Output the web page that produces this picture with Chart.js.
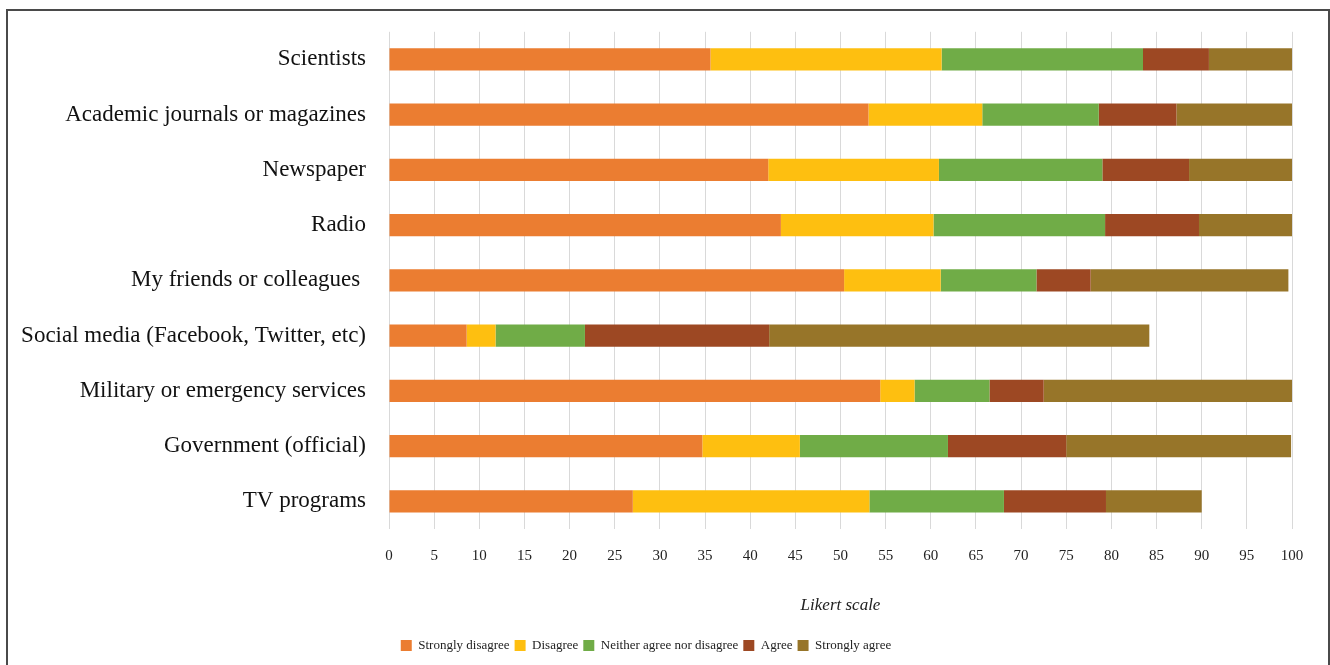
<!DOCTYPE html>
<html>
<head>
<meta charset="utf-8">
<script src="https://cdn.jsdelivr.net/npm/chart.js@4"></script>
<style>
    body { margin: 0; background: #fff; overflow: hidden; }
    #frame {
        position: absolute; left: 6px; top: 9px; width: 1320px; height: 700px;
        border: 2px solid #4a4a4a;
    }
    #wrap { position: absolute; left: 0; top: -5px; width: 1330px; height: 670px; }
</style>
</head>
<body>
<div id="frame"></div>
<div id="wrap"><canvas id="likertChart"></canvas></div>
<script>
// Sources (top to bottom)
const categories = [
    'Scientists',
    'Academic journals or magazines',
    'Newspaper',
    'Radio',
    'My friends or colleagues ',
    'Social media (Facebook, Twitter, etc)',
    'Military or emergency services',
    'Government (official)',
    'TV programs'
];

// Percent of responses per level
const stronglyDisagree = [35.6, 53.1, 42.0, 43.4, 50.4, 8.6, 54.4, 34.7, 27.0];
const disagree         = [25.6, 12.6, 18.9, 16.9, 10.7, 3.2, 3.8, 10.8, 26.2];
const neither          = [22.3, 12.9, 18.1, 19.0, 10.6, 9.9, 8.3, 16.4, 14.9];
const agree            = [7.3, 8.6, 9.6, 10.4, 6.0, 20.4, 6.0, 13.1, 11.3];
const stronglyAgree    = [9.2, 12.8, 11.4, 10.3, 21.9, 42.1, 27.6, 24.9, 10.6];

const seriesNames = ['Strongly disagree', 'Disagree', 'Neither agree nor disagree', 'Agree', 'Strongly agree'];
const xTicks = { min: 0, max: 100, step: 5 };

const colors = ['#EB7D31', '#FEBF10', '#70AC47', '#9D4823', '#977529'];

const serif = "'Liberation Serif', 'DejaVu Serif', serif";
const values = [stronglyDisagree, disagree, neither, agree, stronglyAgree];

new Chart(document.getElementById('likertChart'), {
    type: 'bar',
    data: {
        labels: categories,
        datasets: seriesNames.map((name, i) => ({
            label: name,
            data: values[i],
            backgroundColor: colors[i],
            borderWidth: 0,
            barPercentage: 0.4,
            categoryPercentage: 1
        }))
    },
    options: {
        indexAxis: 'y',
        responsive: true,
        maintainAspectRatio: false,
        animation: false,
        layout: { padding: { left: 0, right: 38, top: 27, bottom: 3 } },
        plugins: {
            tooltip: { enabled: false },
            legend: {
                position: 'bottom',
                labels: {
                    color: '#222',
                    boxWidth: 11,
                    boxHeight: 11,
                    padding: 5,
                    font: { family: serif, size: 13 }
                }
            }
        },
        scales: {
            x: {
                stacked: true,
                min: xTicks.min,
                max: xTicks.max,
                border: { display: false },
                grid: { color: '#d9d9d9', lineWidth: 1, drawTicks: false },
                ticks: {
                    stepSize: xTicks.step,
                    padding: 18,
                    color: '#222',
                    font: { family: serif, size: 15 }
                },
                title: {
                    display: true,
                    text: 'Likert scale',
                    color: '#222',
                    padding: { top: 0, bottom: 18 },
                    font: { family: serif, size: 17, style: 'italic' }
                },
                afterFit: (scale) => { scale.height = 105; }
            },
            y: {
                stacked: true,
                border: { display: false },
                grid: { display: false, drawTicks: false },
                ticks: {
                    padding: 23,
                    color: '#111',
                    font: { family: serif, size: 23 }
                },
                afterFit: (scale) => { scale.width = 389; }
            }
        }
    }
});
</script>
</body>
</html>
